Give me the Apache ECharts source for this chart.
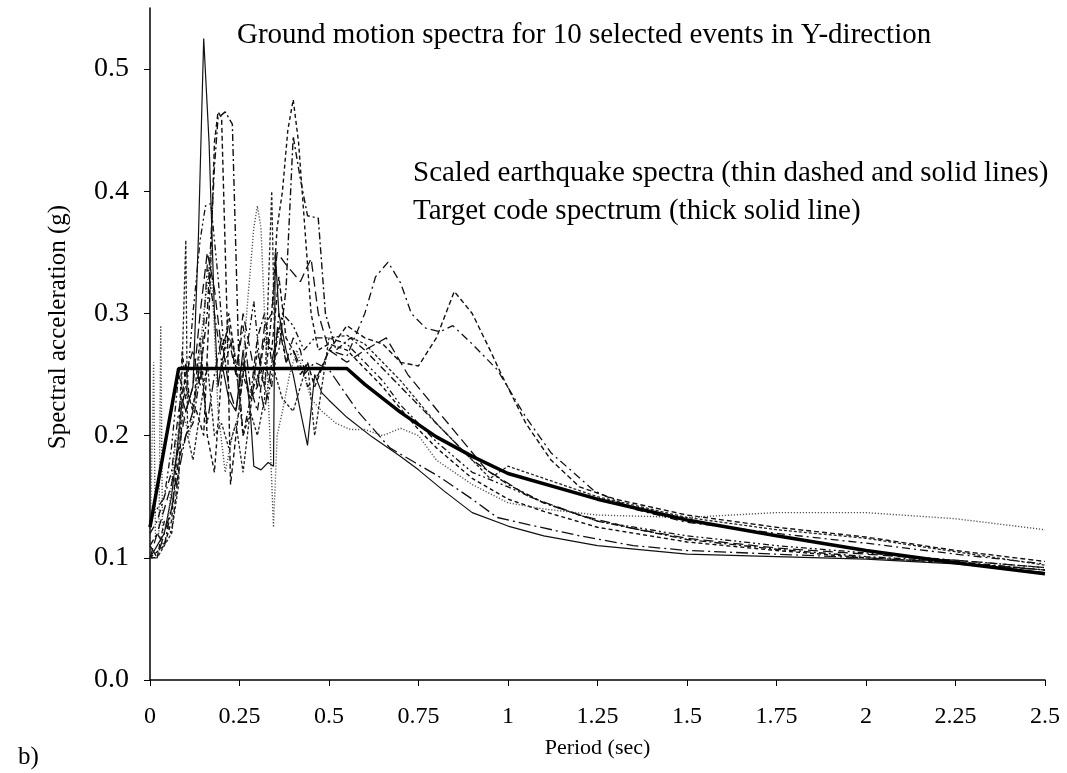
<!DOCTYPE html>
<html>
<head>
<meta charset="utf-8">
<script src="https://cdn.jsdelivr.net/npm/echarts@6/dist/echarts.min.js"></script>
<style>html,body{margin:0;padding:0;background:#fff}#c{width:1067px;height:773px}</style>
</head>
<body>
<div id="c"></div>
<script>
// Period ticks
const xTicks = [0, 0.25, 0.5, 0.75, 1, 1.25, 1.5, 1.75, 2, 2.25, 2.5];
const yTicks = [0.0, 0.1, 0.2, 0.3, 0.4, 0.5];

// Target code spectrum [period, Sa]
const target = [[0,0.125],[0.08,0.255],[0.55,0.255],[0.6,0.242],[0.7,0.219],[0.8,0.199],[0.9,0.183],[1.0,0.169],[1.25,0.148],[1.5,0.131],[1.75,0.118],[2.0,0.106],[2.25,0.096],[2.5,0.087]];

// Scaled earthquake spectra [period, Sa]
const eq1 = [[0,0.10],[0.02,0.11],[0.04,0.12],[0.06,0.15],[0.08,0.2],[0.09,0.23],[0.1,0.22],[0.12,0.24],[0.135,0.36],[0.15,0.525],[0.165,0.44],[0.18,0.3],[0.19,0.24],[0.2,0.26],[0.22,0.23],[0.24,0.22],[0.26,0.27],[0.28,0.22],[0.29,0.175],[0.31,0.172],[0.33,0.178],[0.345,0.175],[0.35,0.35],[0.36,0.3],[0.38,0.27],[0.4,0.25],[0.42,0.22],[0.44,0.192],[0.46,0.25],[0.48,0.235],[0.5,0.229],[0.55,0.215],[0.62,0.199],[0.7,0.183],[0.75,0.172],[0.82,0.155],[0.9,0.137],[1.0,0.126],[1.1,0.118],[1.25,0.11],[1.5,0.103],[1.75,0.101],[2.0,0.099],[2.25,0.095],[2.5,0.088]];
const eq2 = [[0,0.1],[0.02,0.105],[0.04,0.11],[0.06,0.13],[0.08,0.2],[0.09,0.27],[0.1,0.24],[0.12,0.22],[0.14,0.28],[0.16,0.2],[0.18,0.17],[0.2,0.25],[0.22,0.3],[0.24,0.26],[0.26,0.2],[0.28,0.22],[0.3,0.27],[0.32,0.24],[0.34,0.3],[0.355,0.37],[0.37,0.4],[0.385,0.45],[0.4,0.475],[0.415,0.44],[0.43,0.38],[0.45,0.3],[0.47,0.27],[0.5,0.275],[0.55,0.27],[0.6,0.255],[0.65,0.24],[0.7,0.222],[0.75,0.205],[0.8,0.19],[0.9,0.165],[1.0,0.148],[1.1,0.138],[1.25,0.125],[1.5,0.113],[1.75,0.106],[2.0,0.1],[2.25,0.096],[2.5,0.09]];
const eq3 = [[0,0.11],[0.02,0.12],[0.04,0.11],[0.06,0.14],[0.08,0.18],[0.1,0.2],[0.12,0.21],[0.14,0.25],[0.16,0.3],[0.18,0.42],[0.19,0.46],[0.21,0.465],[0.23,0.455],[0.24,0.35],[0.25,0.24],[0.26,0.2],[0.28,0.23],[0.3,0.28],[0.32,0.3],[0.34,0.26],[0.36,0.27],[0.38,0.32],[0.4,0.445],[0.42,0.41],[0.44,0.38],[0.47,0.378],[0.49,0.3],[0.52,0.27],[0.56,0.28],[0.6,0.27],[0.65,0.255],[0.7,0.24],[0.8,0.21],[0.9,0.18],[1.0,0.16],[1.1,0.145],[1.25,0.13],[1.5,0.115],[1.75,0.107],[2.0,0.101],[2.25,0.097],[2.5,0.09]];
const eq4 = [[0,0.1],[0.02,0.1],[0.04,0.13],[0.06,0.12],[0.08,0.17],[0.1,0.26],[0.11,0.23],[0.13,0.22],[0.15,0.2],[0.165,0.3],[0.18,0.44],[0.19,0.465],[0.2,0.46],[0.215,0.3],[0.225,0.16],[0.24,0.2],[0.26,0.25],[0.28,0.23],[0.3,0.24],[0.32,0.28],[0.34,0.27],[0.36,0.33],[0.38,0.28],[0.4,0.27],[0.42,0.25],[0.44,0.26],[0.46,0.24],[0.5,0.27],[0.55,0.29],[0.6,0.28],[0.65,0.275],[0.7,0.26],[0.75,0.257],[0.8,0.28],[0.85,0.318],[0.9,0.3],[0.95,0.27],[0.98,0.251],[1.05,0.21],[1.12,0.18],[1.2,0.158],[1.3,0.148],[1.5,0.135],[1.75,0.125],[2.0,0.117],[2.25,0.106],[2.5,0.097]];
const eq5 = [[0,0.1],[0.01,0.26],[0.015,0.12],[0.025,0.12],[0.03,0.29],[0.035,0.12],[0.05,0.13],[0.07,0.19],[0.09,0.22],[0.11,0.2],[0.13,0.24],[0.15,0.3],[0.17,0.35],[0.19,0.22],[0.21,0.17],[0.23,0.2],[0.25,0.22],[0.27,0.3],[0.29,0.37],[0.3,0.388],[0.31,0.37],[0.32,0.3],[0.335,0.2],[0.345,0.125],[0.355,0.2],[0.37,0.22],[0.39,0.25],[0.41,0.27],[0.43,0.25],[0.45,0.23],[0.48,0.22],[0.52,0.21],[0.56,0.205],[0.6,0.205],[0.65,0.2],[0.7,0.206],[0.75,0.2],[0.8,0.18],[0.9,0.16],[1.0,0.145],[1.1,0.14],[1.25,0.135],[1.5,0.133],[1.75,0.137],[2.0,0.137],[2.25,0.132],[2.5,0.123]];
const eq6 = [[0,0.12],[0.02,0.13],[0.04,0.15],[0.06,0.17],[0.08,0.22],[0.1,0.25],[0.12,0.27],[0.14,0.24],[0.16,0.34],[0.18,0.3],[0.2,0.26],[0.22,0.28],[0.24,0.25],[0.26,0.29],[0.28,0.24],[0.3,0.22],[0.32,0.26],[0.34,0.24],[0.36,0.3],[0.38,0.26],[0.4,0.28],[0.42,0.27],[0.44,0.24],[0.47,0.25],[0.5,0.27],[0.55,0.265],[0.6,0.3],[0.63,0.33],[0.665,0.342],[0.7,0.325],[0.73,0.3],[0.77,0.288],[0.81,0.285],[0.846,0.29],[0.9,0.275],[0.97,0.254],[1.05,0.215],[1.12,0.186],[1.24,0.155],[1.35,0.14],[1.5,0.129],[1.75,0.12],[2.0,0.112],[2.25,0.103],[2.5,0.095]];
const eq7 = [[0,0.1],[0.02,0.12],[0.04,0.14],[0.06,0.16],[0.08,0.19],[0.1,0.22],[0.12,0.24],[0.14,0.3],[0.16,0.35],[0.18,0.32],[0.2,0.27],[0.22,0.29],[0.24,0.25],[0.26,0.3],[0.28,0.27],[0.3,0.24],[0.32,0.29],[0.34,0.3],[0.355,0.35],[0.38,0.34],[0.42,0.326],[0.45,0.345],[0.47,0.3],[0.5,0.27],[0.55,0.26],[0.6,0.27],[0.66,0.28],[0.72,0.25],[0.81,0.218],[0.94,0.172],[1.06,0.15],[1.2,0.135],[1.35,0.124],[1.5,0.116],[1.75,0.108],[2.0,0.103],[2.25,0.098],[2.5,0.092]];
const eq8 = [[0,0.11],[0.02,0.1],[0.04,0.12],[0.06,0.14],[0.08,0.17],[0.1,0.2],[0.12,0.22],[0.14,0.26],[0.16,0.21],[0.18,0.25],[0.2,0.28],[0.22,0.24],[0.24,0.22],[0.26,0.26],[0.28,0.23],[0.3,0.25],[0.32,0.22],[0.34,0.26],[0.36,0.29],[0.38,0.26],[0.4,0.27],[0.43,0.25],[0.46,0.26],[0.5,0.254],[0.58,0.22],[0.67,0.19],[0.74,0.178],[0.81,0.166],[0.9,0.148],[0.97,0.133],[1.06,0.127],[1.2,0.118],[1.35,0.11],[1.5,0.106],[1.75,0.103],[2.0,0.1],[2.25,0.096],[2.5,0.09]];
const eq9 = [[0,0.13],[0.02,0.14],[0.04,0.15],[0.06,0.19],[0.08,0.25],[0.1,0.23],[0.12,0.3],[0.14,0.36],[0.155,0.388],[0.17,0.39],[0.19,0.33],[0.21,0.26],[0.23,0.28],[0.25,0.23],[0.27,0.27],[0.29,0.31],[0.31,0.25],[0.33,0.23],[0.35,0.27],[0.37,0.3],[0.4,0.29],[0.43,0.27],[0.46,0.28],[0.5,0.28],[0.55,0.275],[0.6,0.26],[0.65,0.245],[0.7,0.225],[0.8,0.195],[0.9,0.17],[1.0,0.158],[1.1,0.145],[1.25,0.13],[1.5,0.118],[1.75,0.11],[2.0,0.104],[2.25,0.098],[2.5,0.092]];
const eq10 = [[0,0.1],[0.02,0.1],[0.04,0.11],[0.06,0.12],[0.08,0.16],[0.1,0.36],[0.105,0.2],[0.12,0.18],[0.14,0.22],[0.16,0.26],[0.18,0.2],[0.2,0.21],[0.22,0.19],[0.24,0.21],[0.26,0.17],[0.28,0.22],[0.3,0.2],[0.32,0.23],[0.34,0.4],[0.35,0.25],[0.37,0.23],[0.4,0.22],[0.42,0.24],[0.44,0.26],[0.46,0.2],[0.5,0.28],[0.55,0.282],[0.6,0.275],[0.65,0.26],[0.7,0.245],[0.8,0.21],[0.9,0.18],[0.95,0.165],[1.0,0.175],[1.1,0.165],[1.25,0.15],[1.5,0.133],[1.75,0.123],[2.0,0.116],[2.25,0.105],[2.5,0.094]];

const FONT = '"Liberation Serif", "Times New Roman", serif';
const quakes = [
  {d: eq1, t: 'solid', c: '#111', w: 1.2},
  {d: eq2, t: [4,3], c: '#111', w: 1.4},
  {d: eq3, t: [7,3,2,3], c: '#111', w: 1.4},
  {d: eq4, t: [5,3], c: '#111', w: 1.4},
  {d: eq5, t: [1.2,1.8], c: '#555', w: 1.4},
  {d: eq6, t: [8,4,2,4], c: '#111', w: 1.3},
  {d: eq7, t: [10,5], c: '#111', w: 1.3},
  {d: eq8, t: [12,4,2,4], c: '#111', w: 1.3},
  {d: eq9, t: [6,3,2,3,2,3], c: '#111', w: 1.3},
  {d: eq10, t: [3,2], c: '#222', w: 1.3}
];

const series = quakes.map((q, i) => ({
  name: 'EQ' + (i + 1), type: 'line', data: q.d, symbol: 'none', silent: true,
  lineStyle: {color: q.c, width: q.w, type: q.t}, z: 2
}));
series.push({
  name: 'Target', type: 'line', data: target, symbol: 'none', silent: true,
  lineStyle: {color: '#000', width: 3.5, type: 'solid'}, z: 5
});

const chart = echarts.init(document.getElementById('c'), null, {renderer: 'canvas'});
chart.setOption({
  animation: false,
  backgroundColor: '#fff',
  grid: {left: 150, right: 22, top: 8, bottom: 93, containLabel: false},
  xAxis: {
    type: 'value', min: 0, max: 2.5, interval: 0.25,
    name: 'Period (sec)', nameLocation: 'middle', nameGap: 57,
    nameTextStyle: {fontFamily: FONT, fontSize: 22, color: '#000'},
    axisLine: {lineStyle: {color: '#000', width: 1.5}},
    axisTick: {show: true, inside: false, length: 6, lineStyle: {color: '#000'}},
    axisLabel: {fontFamily: FONT, fontSize: 24, color: '#000', margin: 25,
      formatter: v => { const m = xTicks.find(t => Math.abs(t - v) < 1e-6); return m === undefined ? '' : String(m); }},
    splitLine: {show: false}
  },
  yAxis: {
    type: 'value', min: 0, max: 0.55, interval: 0.1,
    axisLine: {show: true, lineStyle: {color: '#000', width: 1.5}},
    axisTick: {show: true, inside: false, length: 6, lineStyle: {color: '#000'}},
    axisLabel: {fontFamily: FONT, fontSize: 28, color: '#000', margin: 21, showMaxLabel: false,
      formatter: v => { const m = yTicks.find(t => Math.abs(t - v) < 1e-6); return m === undefined ? '' : m.toFixed(1); }},
    splitLine: {show: false}
  },
  graphic: [
    {type: 'text', x: 58, y: 327, rotation: Math.PI / 2,
      style: {text: 'Spectral acceleration (g)', font: '25px ' + FONT, fill: '#000', align: 'center', verticalAlign: 'middle'}},
    {type: 'text', left: 237, top: 21, style: {text: 'Ground motion spectra for 10 selected events in Y-direction', font: '29px ' + FONT, fill: '#000'}},
    {type: 'text', left: 413, top: 159, style: {text: 'Scaled earthquake spectra (thin dashed and solid lines)', font: '29px ' + FONT, fill: '#000'}},
    {type: 'text', left: 413, top: 197, style: {text: 'Target code spectrum (thick solid line)', font: '29px ' + FONT, fill: '#000'}},
    {type: 'text', left: 18, top: 745, style: {text: 'b)', font: '25px ' + FONT, fill: '#000'}}
  ],
  series: series
});
</script>
</body>
</html>
